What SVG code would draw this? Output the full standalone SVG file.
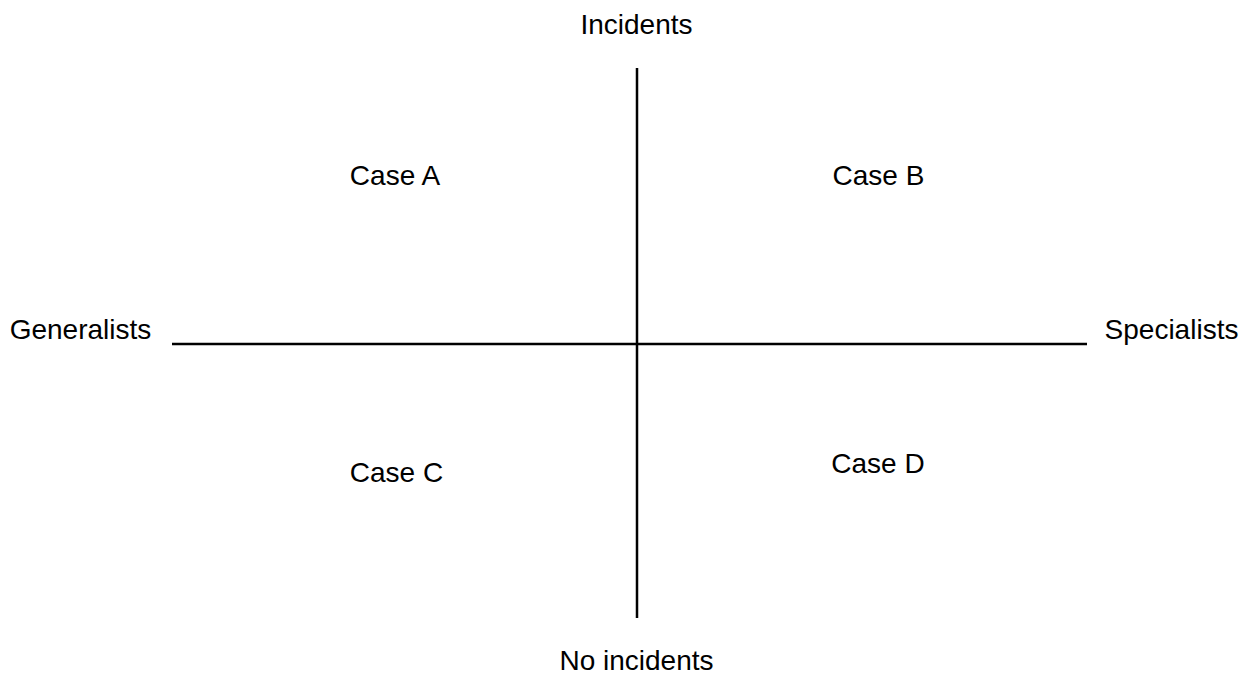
<svg xmlns="http://www.w3.org/2000/svg" width="1246" height="675" viewBox="0 0 1246 675">
  <style>
    .lbl { font-family: "Liberation Sans", Arial, sans-serif; font-size: 28px; fill: #000; text-anchor: middle; }
    .axis { stroke: #000; stroke-width: 2.5; fill: none; }
  </style>
  <rect width="1246" height="675" fill="#fff"/>
  <g id="connectors">
    <line class="axis" x1="637" y1="68" x2="637" y2="618"/>
    <line class="axis" x1="172" y1="344" x2="1087" y2="344"/>
  </g>
  <g id="label-incidents"><text class="lbl" x="636.5" y="34">Incidents</text></g>
  <g id="label-no-incidents"><text class="lbl" x="636.5" y="670">No incidents</text></g>
  <g id="label-generalists"><text class="lbl" x="80.5" y="339">Generalists</text></g>
  <g id="label-specialists"><text class="lbl" x="1171.5" y="339">Specialists</text></g>
  <g id="case-a"><text class="lbl" x="395" y="185">Case A</text></g>
  <g id="case-b"><text class="lbl" x="878.5" y="185">Case B</text></g>
  <g id="case-c"><text class="lbl" x="396.5" y="482">Case C</text></g>
  <g id="case-d"><text class="lbl" x="878" y="473">Case D</text></g>
</svg>
